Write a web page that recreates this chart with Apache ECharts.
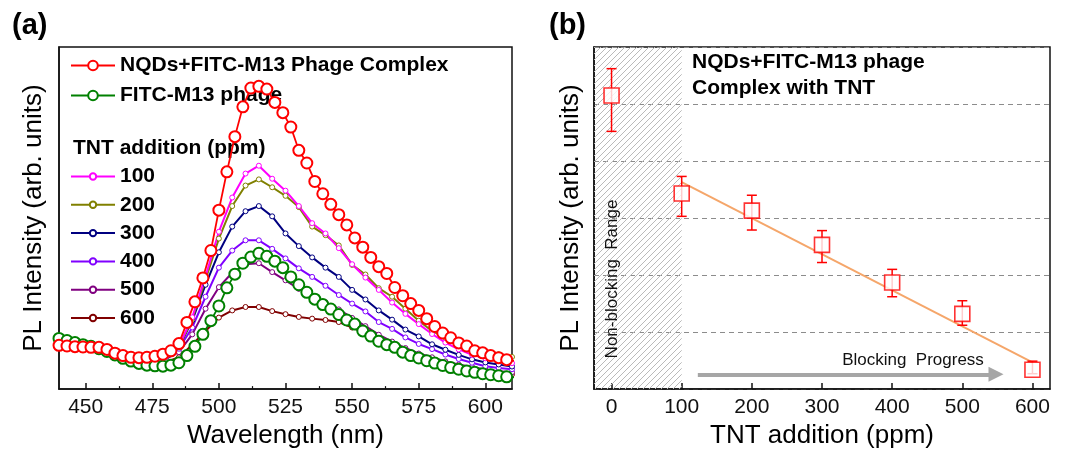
<!DOCTYPE html>
<html>
<head>
<meta charset="utf-8">
<script src="https://cdn.jsdelivr.net/npm/echarts@6/dist/echarts.min.js"></script>
<style>html,body{margin:0;padding:0;background:#fff;}#chart{width:1069px;height:454px;}</style>
</head>
<body>
<div id="chart"></div>
<script>
// ---------- Panel (a) data ----------
const wlDense = [440,443,446,449,452,455,458,461,464,467,470,473,476,479,482,485,488,491,494,497,500,503,506,509,512,515,518,521,524,527,530,533,536,539,542,545,548,551,554,557,560,563,566,569,572,575,578,581,584,587,590,593,596,599,602,605,608,611];
const complexPL = [12.8,12.6,12.4,12.3,12.2,12.2,11.6,10.5,9.8,9.3,9.2,9.3,9.6,10.2,11.2,13.3,19.5,25.5,32.5,40.5,52.3,63.5,73.8,82.5,88,88.5,87.7,83.8,80.8,76.6,69.8,66.1,60.7,57.1,54,51,48,44.2,41.5,38.5,35.8,33.8,29.7,27.3,25,23,20.6,18.3,16.4,15,13.5,12.6,11.2,10.6,9.8,9.2,8.6,8.2];
const phagePL = [14.8,14.2,13.6,13,12.5,11.8,11,10,9,8.2,7.5,7,6.8,6.7,7,7.7,9.8,12.5,16,20,24.3,29.6,33.6,36.8,38.6,39.7,38.8,37.4,35.5,32.8,30.5,28.3,26.3,24.7,23.4,21.8,20.2,19,17,15.5,14,13,12.2,10.8,9.8,9.1,8.3,7.6,6.9,6.3,5.8,5.3,4.9,4.5,4.2,3.9,3.6,3.4];
const wlTNT = [440,445,450,455,460,465,470,475,480,485,490,495,500,505,510,515,520,525,530,535,540,545,550,555,560,565,570,575,580,585,590,595,600,605,610];
const tnt100 = [14.2,13.5,12.8,12.3,11,9.8,9,8.8,9.5,12.5,21,33,46,56,63,65.3,61.5,58,53.5,48.5,45.5,41.2,36.5,32.6,29,25.3,22,19,16.1,13.6,11.6,10,9,8.3,7.6];
const tnt200 = [13.8,13.2,12.5,12,10.8,9.6,8.9,8.7,9.4,12.2,20.5,32,44,53.5,59.5,61.3,59,56.5,53.2,47.5,45,42,36.3,33.5,29.5,27,23.5,20,17,15,13.4,12,10.9,10.2,9.4];
const tnt300 = [14.5,13.8,13.2,12.8,11.3,10,9.2,9,9.6,12.3,20,30.5,40,47.5,52,53.5,50.5,45.5,41.8,38.5,35.5,32.8,29,26.2,23,20.3,17.4,15.4,13.1,11.5,10,8.7,7.8,7.2,6.6];
const tnt400 = [14,13.5,12.8,12.2,11,9.8,9,8.8,9.3,11.8,18,27,35.5,40.5,43.5,43.5,41,38.2,35.3,32.8,30.2,27.5,25,22.7,19.6,17.6,15.1,13.2,11.7,10.1,8.8,7.7,6.7,6.2,5.8];
const tnt500 = [13.2,12.7,12.2,11.7,10.6,9.5,8.7,8.4,8.8,10.8,16,23.5,29.8,34,36.5,36.8,34.2,31.8,29.3,27.3,25.4,23.3,20.8,18.4,15.9,13.9,12,10.4,9.3,8.1,7.2,6.5,5.7,5.2,4.9];
const tnt600 = [12.2,12.1,11.8,11.2,10,8.9,8.2,7.8,7.9,9.3,13,17,20.9,23,24,24,22.8,21.9,21.1,20.6,20.2,19.6,18,16.3,14.6,13,11.6,10,8.9,7.6,6.5,5.6,5,4.6,4.3];
const wlTicks = [450,475,500,525,550,575,600];
const wlMinorTicks = [462.5,487.5,512.5,537.5,562.5,587.5];

// ---------- Panel (b) data ----------
const tntAdd = [0,100,200,300,400,500,600];
const plMean = [5.15,3.43,3.13,2.53,1.87,1.32,0.34];
const plLow = [4.52,3.03,2.79,2.22,1.62,1.12,0.27];
const plHigh = [5.62,3.73,3.40,2.78,2.10,1.55,0.49];
const fitX = [100,600];
const fitY = [3.63,0.47];
const tntTicks = [0,100,200,300,400,500,600];
const nonBlockRange = [-25,100];
const arrowX = [123,548];
const arrowY = 0.26;

const FONT = '"Liberation Sans", Arial, sans-serif';

// hatch pattern
const S = 6;
const pc = document.createElement('canvas');
pc.width = S; pc.height = S;
const ctx = pc.getContext('2d');
ctx.strokeStyle = '#bababa';
ctx.lineWidth = 1;
ctx.beginPath();
ctx.moveTo(0,S); ctx.lineTo(S,0);
ctx.moveTo(-1,1); ctx.lineTo(1,-1);
ctx.moveTo(S-1,S+1); ctx.lineTo(S+1,S-1);
ctx.stroke();

const chart = echarts.init(document.getElementById('chart'), null, {renderer:'canvas'});

function zip(xs, ys){ return xs.map((x,i)=>[x, ys[i]]); }

function tntSeries(name, color, vals){
  return {
    name: name, type: 'line', xAxisIndex: 0, yAxisIndex: 0,
    data: zip(wlTNT, vals),
    symbol: 'circle', symbolSize: 5, showAllSymbol: true,
    lineStyle: {color: color, width: 2},
    itemStyle: {color: '#fff', borderColor: color, borderWidth: 1},
    emphasis: {disabled: true}, z: 2
  };
}

const option = {
  animation: false,
  textStyle: {fontFamily: FONT},
  grid: [
    {left: 59, top: 47, width: 453, height: 345, show: true, borderColor: '#111', borderWidth: 1.5, backgroundColor: 'transparent'},
    {left: 594, top: 47, width: 456, height: 345, show: true, borderColor: '#111', borderWidth: 1.5, backgroundColor: 'transparent'}
  ],
  xAxis: [
    {gridIndex: 0, type: 'value', min: 440, max: 610, position: 'bottom',
     name: 'Wavelength (nm)', nameLocation: 'middle', nameGap: 32,
     nameTextStyle: {fontSize: 26, color: '#000', fontFamily: FONT},
     axisLine: {show: true, onZero: false, lineStyle: {color: '#111', width: 1.5}},
     axisTick: {show: true, inside: true, length: 6, customValues: wlTicks, lineStyle: {color: '#111', width: 1.5}},
     axisLabel: {show: true, customValues: wlTicks, fontSize: 21, color: '#111', margin: 8, fontFamily: FONT},
     splitLine: {show: false}},
    {gridIndex: 0, type: 'value', min: 440, max: 610, position: 'bottom',
     axisLine: {show: false, onZero: false},
     axisTick: {show: true, inside: true, length: 3, customValues: wlMinorTicks, lineStyle: {color: '#111', width: 1.2}},
     axisLabel: {show: false}, splitLine: {show: false}},
    {gridIndex: 1, type: 'value', min: -25, max: 625, position: 'bottom',
     name: 'TNT addition (ppm)', nameLocation: 'middle', nameGap: 32,
     nameTextStyle: {fontSize: 26, color: '#000', fontFamily: FONT},
     axisLine: {show: true, onZero: false, lineStyle: {color: '#111', width: 1.5}},
     axisTick: {show: true, inside: true, length: 6, customValues: tntTicks, lineStyle: {color: '#111', width: 1.5}},
     axisLabel: {show: true, customValues: tntTicks, fontSize: 21, color: '#111', margin: 8, fontFamily: FONT},
     splitLine: {show: false}}
  ],
  yAxis: [
    {gridIndex: 0, type: 'value', min: 0, max: 100,
     name: 'PL Intensity (arb. units)', nameLocation: 'middle', nameGap: 12,
     nameTextStyle: {fontSize: 26, color: '#000', fontFamily: FONT},
     axisLine: {show: true, onZero: false, lineStyle: {color: '#111', width: 1.5}},
     axisTick: {show: false}, axisLabel: {show: false}, splitLine: {show: false}},
    {gridIndex: 1, type: 'value', min: 0, max: 6, interval: 1,
     name: 'PL Intensity (arb. units)', nameLocation: 'middle', nameGap: 10,
     nameTextStyle: {fontSize: 26, color: '#000', fontFamily: FONT},
     axisLine: {show: true, onZero: false, lineStyle: {color: '#111', width: 1.5}},
     axisTick: {show: false}, axisLabel: {show: false},
     splitLine: {show: true, lineStyle: {color: '#8c8c8c', type: [5,4], width: 1}}}
  ],
  legend: [
    {left: 70, top: 55, orient: 'vertical', padding: 0, itemGap: 9, itemWidth: 44, itemHeight: 12,
     selectedMode: false,
     data: ['NQDs+FITC-M13 Phage Complex', 'FITC-M13 phage'],
     textStyle: {fontSize: 21, fontWeight: 'bold', color: '#000', fontFamily: FONT}},
    {left: 70, top: 166, orient: 'vertical', padding: 0, itemGap: 7.3, itemWidth: 44, itemHeight: 8,
     selectedMode: false,
     data: ['100','200','300','400','500','600'],
     textStyle: {fontSize: 21, fontWeight: 'bold', color: '#000', fontFamily: FONT}}
  ],
  series: [
    tntSeries('600', '#800000', tnt600),
    tntSeries('500', '#800080', tnt500),
    tntSeries('400', '#8000ff', tnt400),
    tntSeries('300', '#000080', tnt300),
    tntSeries('200', '#808000', tnt200),
    tntSeries('100', '#ff00ff', tnt100),
    {name: 'FITC-M13 phage', type: 'line', xAxisIndex: 0, yAxisIndex: 0,
     data: zip(wlDense, phagePL), symbol: 'circle', symbolSize: 11, showAllSymbol: true,
     lineStyle: {color: '#008000', width: 1.8},
     itemStyle: {color: '#fff', borderColor: '#008000', borderWidth: 2}, z: 3},
    {name: 'NQDs+FITC-M13 Phage Complex', type: 'line', xAxisIndex: 0, yAxisIndex: 0,
     data: zip(wlDense, complexPL), symbol: 'circle', symbolSize: 11, showAllSymbol: true,
     lineStyle: {color: '#ff0000', width: 1.8},
     itemStyle: {color: '#fff', borderColor: '#ff0000', borderWidth: 2}, z: 4},
    {name: 'fit', type: 'line', xAxisIndex: 2, yAxisIndex: 1,
     data: zip(fitX, fitY), symbol: 'none',
     lineStyle: {color: '#f5a66a', width: 2}, z: 5,
     markArea: {silent: true, itemStyle: {color: {image: pc, repeat: 'repeat'}},
       data: [[{xAxis: nonBlockRange[0]}, {xAxis: nonBlockRange[1]}]]},
     markLine: {silent: true, symbol: ['none', 'triangle'], symbolSize: [15, 15],
       lineStyle: {color: '#a6a6a6', width: 4, type: 'solid'},
       itemStyle: {color: '#a6a6a6'},
       label: {show: false},
       data: [[{coord: [arrowX[0], arrowY]}, {coord: [arrowX[1], arrowY]}]]}},
    {name: 'err', type: 'custom', xAxisIndex: 2, yAxisIndex: 1,
     data: tntAdd.map((x,i)=>[x, plLow[i], plHigh[i]]), z: 6,
     renderItem: function(params, api){
       const x = api.value(0);
       const lo = api.coord([x, api.value(1)]);
       const hi = api.coord([x, api.value(2)]);
       const c = 5;
       const st = {stroke: '#ff0000', lineWidth: 1.5};
       return {type: 'group', children: [
         {type: 'line', shape: {x1: lo[0], y1: lo[1], x2: hi[0], y2: hi[1]}, style: st},
         {type: 'line', shape: {x1: lo[0]-c, y1: lo[1], x2: lo[0]+c, y2: lo[1]}, style: st},
         {type: 'line', shape: {x1: hi[0]-c, y1: hi[1], x2: hi[0]+c, y2: hi[1]}, style: st}
       ]};
     }},
    {name: 'PL', type: 'scatter', xAxisIndex: 2, yAxisIndex: 1,
     data: zip(tntAdd, plMean), symbol: 'rect', symbolSize: [15, 15],
     itemStyle: {color: '#fff', borderColor: '#ff0000', borderWidth: 1.6}, z: 7}
  ],
  graphic: [
    {type: 'text', left: 12, top: 11, style: {text: '(a)', font: 'bold 29px ' + FONT, fill: '#000'}},
    {type: 'text', left: 549, top: 11, style: {text: '(b)', font: 'bold 29px ' + FONT, fill: '#000'}},
    {type: 'text', x: 73, y: 148, style: {text: 'TNT addition (ppm)', font: 'bold 21px ' + FONT, fill: '#000', verticalAlign: 'middle'}},
    {type: 'text', x: 692, y: 62, style: {text: 'NQDs+FITC-M13 phage', font: 'bold 21px ' + FONT, fill: '#000', verticalAlign: 'middle'}},
    {type: 'text', x: 692, y: 88, style: {text: 'Complex with TNT', font: 'bold 21px ' + FONT, fill: '#000', verticalAlign: 'middle'}},
    {type: 'text', x: 612, y: 279, rotation: Math.PI/2, z: 10,
     style: {text: 'Non-blocking  Range', font: '17px ' + FONT, fill: '#111', align: 'center', verticalAlign: 'middle'}},
    {type: 'text', x: 913, y: 360, z: 10,
     style: {text: 'Blocking  Progress', font: '17px ' + FONT, fill: '#111', align: 'center', verticalAlign: 'middle'}}
  ]
};
chart.setOption(option);
</script>
</body>
</html>
